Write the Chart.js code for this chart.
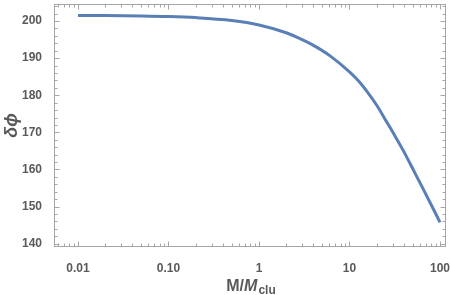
<!DOCTYPE html>
<html><head><meta charset="utf-8">
<script src="https://cdn.jsdelivr.net/npm/chart.js@4"></script>
<style>html,body{margin:0;padding:0;background:#fff}#wrap{width:450px;height:295px}</style>
</head><body><div id="wrap"><canvas id="c"></canvas></div>
<script>
const massRatio = [0.01,0.02,0.05,0.1,0.2,0.5,1,2,3,4,6,10,12.6,15.8,20,25,31.6,40,50,63,79.4,100];
const deltaPhi  = [201.51,201.48,201.38,201.23,200.93,200.15,198.95,196.85,195.0,193.45,190.75,186.3,183.85,180.85,177.3,173.35,169.15,164.75,160.18,155.45,150.63,145.75];
const xTicks = [0.01,0.1,1,10,100];
const xTickLabels = ['0.01','0.10','1','10','100'];
const yTicks = [140,150,160,170,180,190,200];
const yTickLabels = ['140','150','160','170','180','190','200'];

const FONT = '"Liberation Sans", Arial, sans-serif';
const frameColor = '#a6a6a6';
const textColor = '#595959';

const framePlugin = {
  id: 'frame',
  beforeDatasetsDraw(chart) {
    const {ctx, chartArea: a, scales: {x, y}} = chart;
    ctx.save();
    ctx.strokeStyle = frameColor;
    ctx.lineWidth = 1;
    const L = Math.round(a.left)+0.5, R = Math.round(a.right)-0.5, T = Math.round(a.top)+0.5, B = Math.round(a.bottom)-0.5;
    ctx.strokeRect(L, T, R - L, B - T);
    ctx.beginPath();
    for (let e = -3; e <= 2; e++) {
      for (let m = 1; m <= 9; m++) {
        const v = m * Math.pow(10, e);
        if (v < x.min || v > x.max) continue;
        const px = Math.round(x.getPixelForValue(v)) + 0.5;
        const len = (m === 1) ? 5 : 3;
        ctx.moveTo(px, B); ctx.lineTo(px, B - len);
        ctx.moveTo(px, T); ctx.lineTo(px, T + len);
      }
    }
    for (let v = 140; v <= 204; v += 2) {
      if (v < y.min || v > y.max) continue;
      const py = Math.round(y.getPixelForValue(v)) + 0.5;
      const len = (v % 10 === 0) ? 5 : 3;
      ctx.moveTo(L, py); ctx.lineTo(L + len, py);
      ctx.moveTo(R, py); ctx.lineTo(R - len, py);
    }
    ctx.stroke();
    ctx.restore();
  },
  afterDraw(chart) {
    const {ctx, chartArea: a} = chart;
    ctx.save();
    ctx.fillStyle = textColor;
    ctx.translate(12, (a.top + a.bottom) / 2);
    ctx.rotate(-Math.PI / 2);
    ctx.font = 'italic bold 18px ' + FONT;
    ctx.textAlign = 'center';
    ctx.textBaseline = 'middle';
    ctx.fillText('δϕ', 0, 0);
    ctx.restore();
    ctx.save();
    ctx.fillStyle = textColor;
    ctx.textBaseline = 'alphabetic';
    const f1 = 'bold 16px ' + FONT, f2 = 'italic bold 16px ' + FONT, f3 = 'bold 12px ' + FONT;
    ctx.font = f1; const w1 = ctx.measureText('M/').width;
    ctx.font = f2; const w2 = ctx.measureText('M').width;
    ctx.font = f3; const w3 = ctx.measureText('clu').width;
    const total = w1 + w2 + w3 + 1;
    let xx = 251 - total / 2;
    const base = 291;
    ctx.font = f1; ctx.fillText('M/', xx, base); xx += w1;
    ctx.font = f2; ctx.fillText('M', xx, base); xx += w2 + 1;
    ctx.font = f3; ctx.fillText('clu', xx, base + 3);
    ctx.restore();
  }
};

new Chart(document.getElementById('c'), {
  type: 'line',
  data: {
    datasets: [{
      data: massRatio.map((m, i) => ({x: m, y: deltaPhi[i]})),
      borderColor: '#5a7fb6',
      borderWidth: 3,
      pointRadius: 0,
      cubicInterpolationMode: 'monotone',
      fill: false
    }]
  },
  options: {
    responsive: true,
    maintainAspectRatio: false,
    animation: false,
    layout: {padding: {top: 4, right: 4, left: 0, bottom: 0}},
    plugins: {legend: {display: false}, tooltip: {enabled: false}},
    scales: {
      x: {
        type: 'logarithmic',
        min: 0.00543, max: 116.5,
        grid: {display: false},
        border: {display: false},
        afterBuildTicks: s => { s.ticks = xTicks.map(v => ({value: v})); },
        afterFit: s => { s.height = 48; s.paddingLeft = 0; s.paddingRight = 0; s.paddingTop = 0; s.paddingBottom = 0; },
        ticks: {
          autoSkip: false, maxRotation: 0,
          padding: 6,
          color: textColor,
          font: {family: FONT, size: 12, weight: 'bold'},
          callback: (v) => { const i = xTicks.indexOf(v); return i >= 0 ? xTickLabels[i] : ''; }
        }
      },
      y: {
        min: 139.1, max: 204.6,
        grid: {display: false},
        border: {display: false},
        afterBuildTicks: s => { s.ticks = yTicks.map(v => ({value: v})); },
        afterFit: s => { s.width = 54; s.paddingLeft = 0; s.paddingRight = 0; s.paddingTop = 0; s.paddingBottom = 0; },
        ticks: {
          autoSkip: false,
          padding: 4,
          color: textColor,
          font: {family: FONT, size: 12, weight: 'bold'},
          callback: (v) => { const i = yTicks.indexOf(v); return i >= 0 ? yTickLabels[i] : ''; }
        }
      }
    }
  },
  plugins: [framePlugin]
});
</script>
</body></html>
